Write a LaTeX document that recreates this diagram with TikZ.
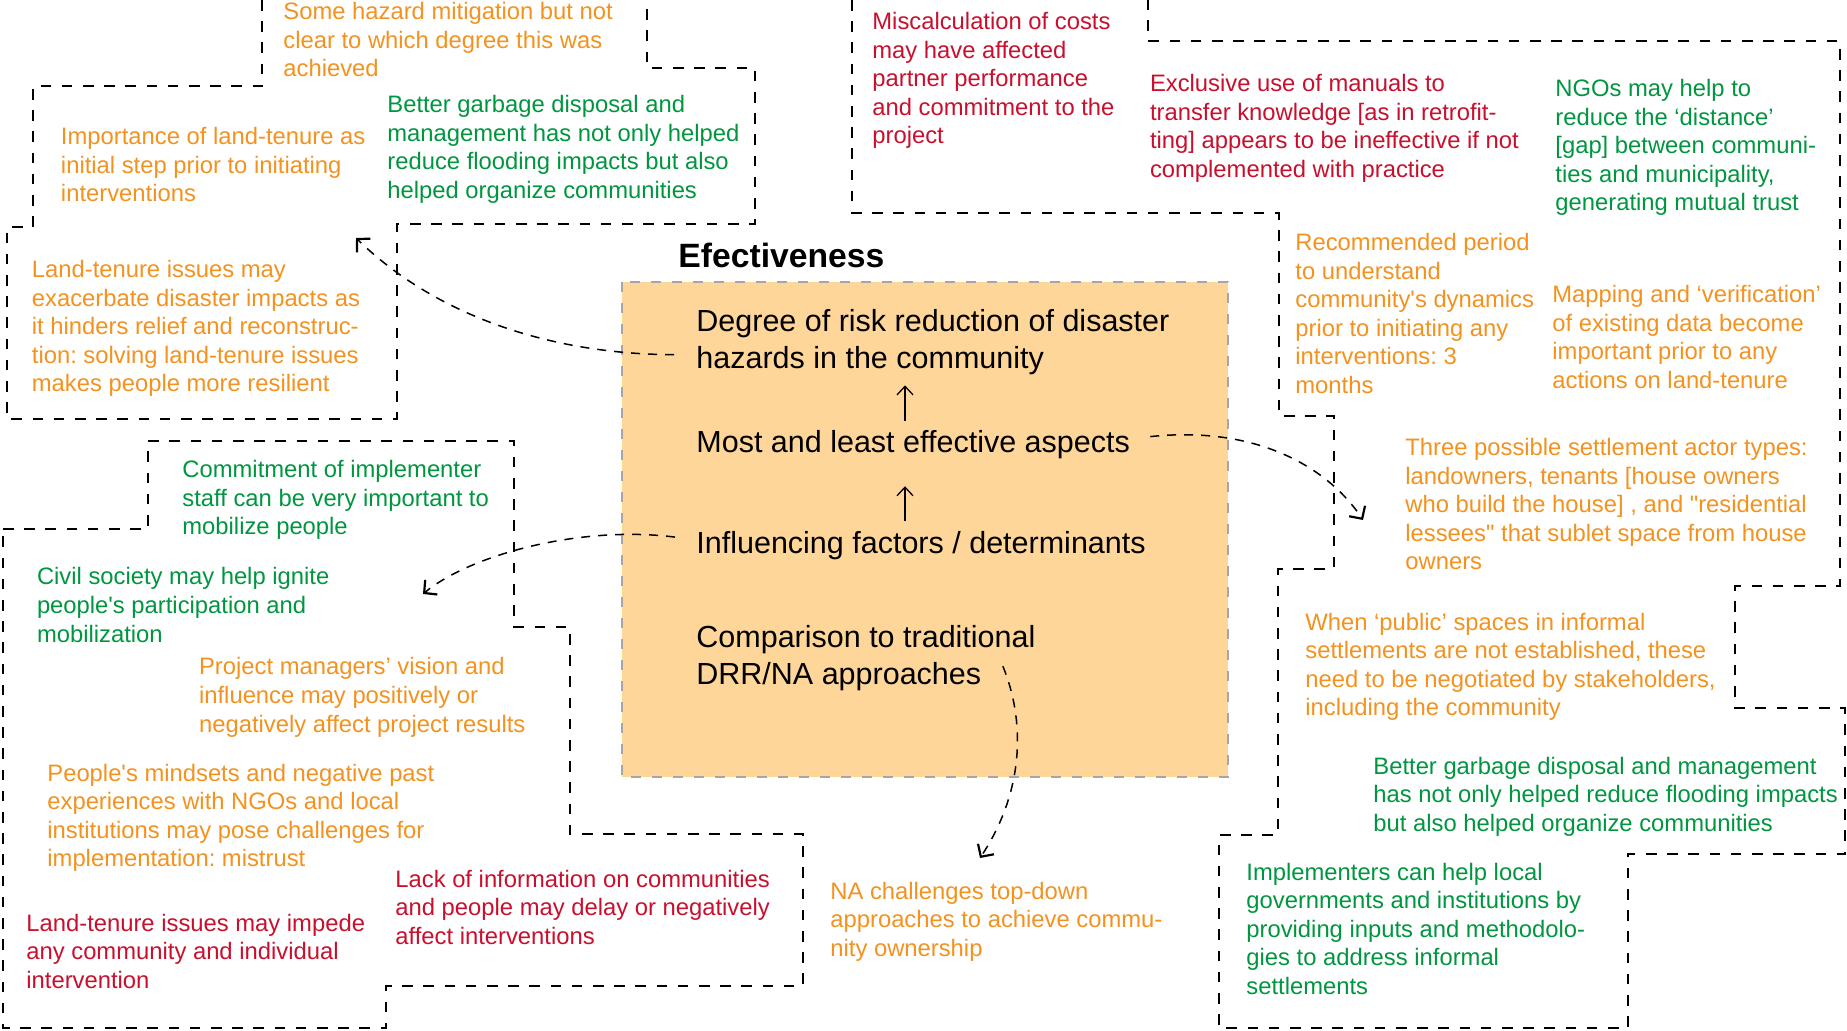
\documentclass[tikz,border=0pt]{standalone}
\usepackage{fontspec}
\setmainfont{Liberation Sans}
\usetikzlibrary{arrows.meta}
\definecolor{note-orange}{RGB}{243,146,31}
\definecolor{note-red}{RGB}{200,16,46}
\definecolor{note-green}{RGB}{0,150,64}
\definecolor{box-fill}{RGB}{255,214,153}
\frenchspacing

\begin{document}
\begin{tikzpicture}[
    x=0.5pt, y=-0.5pt,
    note/.style={anchor=base west, inner sep=0pt, align=left, font=\fontsize{11.9pt}{14.25pt}\selectfont},
    goodnote/.style={note, text=note-green},
    badnote/.style={note, text=note-red},
    mixnote/.style={note, text=note-orange},
    factor/.style={anchor=base west, inner sep=0pt, align=left, font=\fontsize{15.25pt}{18.5pt}\selectfont},
    region/.style={line width=0.9pt, dash pattern=on 5.3pt off 5.3pt},
    link/.style={-{Straight Barb[length=4.6pt, width=9.5pt, line width=1.1pt]}, line width=0.75pt, dash pattern=on 4.5pt off 4pt},
    lift/.style={-{Straight Barb[length=4.3pt, width=8pt]}, line width=0.65pt}
]
\useasboundingbox (0,0) rectangle (1847,1031);

% outlines of the note groups
\draw[region] (262,0) -- (262,86) -- (33,86) -- (33,227) -- (7,227) -- (7,419) -- (397,419)
    -- (397,224) -- (755,224) -- (755,68) -- (647,68) -- (647,0);
\draw[region] (852,0) -- (852,213) -- (1279,213) -- (1279,416) -- (1334,416) -- (1334,569)
    -- (1278,569) -- (1278,835) -- (1219,835) -- (1219,1028) -- (1628,1028) -- (1628,854)
    -- (1845,854) -- (1845,708) -- (1735,708) -- (1735,586) -- (1840,586) -- (1840,41)
    -- (1148,41) -- (1148,0);
\draw[region] (3,529) -- (148,529) -- (148,441) -- (514,441) -- (514,627) -- (570,627)
    -- (570,834) -- (803,834) -- (803,986) -- (386,986) -- (386,1028) -- (3,1028) -- cycle;

% central panel (nodes sit on the baseline of their last line)
\draw[draw=gray!70, fill=box-fill, line width=0.7pt, dash pattern=on 5pt off 5.5pt] (622,282) rectangle (1228,777);
\node[anchor=base west, inner sep=0pt, font=\fontsize{16.85pt}{20pt}\selectfont\bfseries] (title) at (678,268) {Efectiveness};

\node[factor] (degree) at (696,369) {Degree of risk reduction of disaster\\hazards in the community};
\node[factor] (aspects) at (696,452.5) {Most and least effective aspects};
\node[factor] (factors) at (696,554) {Influencing factors / determinants};
\node[factor] (comparison) at (696,684.5) {Comparison to traditional\\DRR/NA approaches};

\coordinate (spine) at (905,0);
\draw[lift, shorten <=4.5pt, shorten >=4.8pt] (aspects.north -| spine) -- (degree.south -| spine);
\draw[lift, shorten <=5pt, shorten >=13.5pt] (factors.north -| spine) -- (aspects.south -| spine);

% notes
\node[mixnote] (hazard) at (283,77) {Some hazard mitigation but not\\clear to which degree this was\\achieved};
\node[goodnote] (garbageTop) at (387,198.5) {Better garbage disposal and\\management has not only helped\\reduce flooding impacts but also\\helped organize communities};
\node[mixnote] (tenureStep) at (60.6,202) {Importance of land-tenure as\\initial step prior to initiating\\interventions};
\node[mixnote] (tenureRelief) at (31.5,392) {Land-tenure issues may\\exacerbate disaster impacts as\\it hinders relief and reconstruc-\\tion: solving land-tenure issues\\makes people more resilient};
\node[badnote] (costs) at (872,144) {Miscalculation of costs\\may have affected\\partner performance\\and commitment to the\\project};
\node[badnote] (manuals) at (1149.6,177.5) {Exclusive use of manuals to\\transfer knowledge [as in retrofit-\\ting] appears to be ineffective if not\\complemented with practice};
\node[goodnote] (ngos) at (1555,211) {NGOs may help to\\reduce the ‘distance’\\{}[gap] between communi-\\ties and municipality,\\generating mutual trust};
\node[mixnote] (period) at (1295,393.5) {Recommended period\\to understand\\community\textquotesingle s dynamics\\prior to initiating any\\interventions: 3\\months};
\node[mixnote] (mapping) at (1552,388.5) {Mapping and ‘verification’\\of existing data become\\important prior to any\\actions on land-tenure};
\node[mixnote] (actors) at (1405,570) {Three possible settlement actor types:\\landowners, tenants [house owners\\who build the house] , and \textquotedbl residential\\lessees\textquotedbl{} that sublet space from house\\owners};
\node[mixnote] (publicspace) at (1305,715.5) {When ‘public’ spaces in informal\\settlements are not established, these\\need to be negotiated by stakeholders,\\including the community};
\node[goodnote] (garbageRight) at (1373,831) {Better garbage disposal and management\\has not only helped reduce flooding impacts\\but also helped organize communities};
\node[goodnote] (implementers) at (1246,994) {Implementers can help local\\governments and institutions by\\providing inputs and methodolo-\\gies to address informal\\settlements};
\node[mixnote] (topdown) at (830,956) {NA challenges top-down\\approaches to achieve commu-\\nity ownership};
\node[goodnote] (commitment) at (182,535) {Commitment of implementer\\staff can be very important to\\mobilize people};
\node[goodnote] (civil) at (36.6,642) {Civil society may help ignite\\people\textquotesingle s participation and\\mobilization};
\node[mixnote] (managers) at (198.7,732) {Project managers’ vision and\\influence may positively or\\negatively affect project results};
\node[mixnote] (mindsets) at (47,866.5) {People\textquotesingle s mindsets and negative past\\experiences with NGOs and local\\institutions may pose challenges for\\implementation: mistrust};
\node[badnote] (lackinfo) at (395,944) {Lack of information on communities\\and people may delay or negatively\\affect interventions};
\node[badnote] (impede) at (26,988) {Land-tenure issues may impede\\any community and individual\\intervention};

\coordinate (tipDegree) at (356,238);
\coordinate (tipAspects) at (1363,520);
\coordinate (tipFactors) at (423,594);
\coordinate (tipComparison) at (980,858);

\draw[link] ([shift={(-22,-21)}]degree.south west) .. controls (540,354) and (430,310) .. (tipDegree);
\draw[link] ([shift={(20,-8)}]aspects.east) .. controls (1260,425) and (1330,470) .. (tipAspects);
\draw[link] ([shift={(-21,-9)}]factors.west) .. controls (580,525) and (470,555) .. (tipFactors);
\draw[link] ([shift={(-33,-25)}]comparison.south east) .. controls (1025,720) and (1025,790) .. (tipComparison);

\end{tikzpicture}
\end{document}
